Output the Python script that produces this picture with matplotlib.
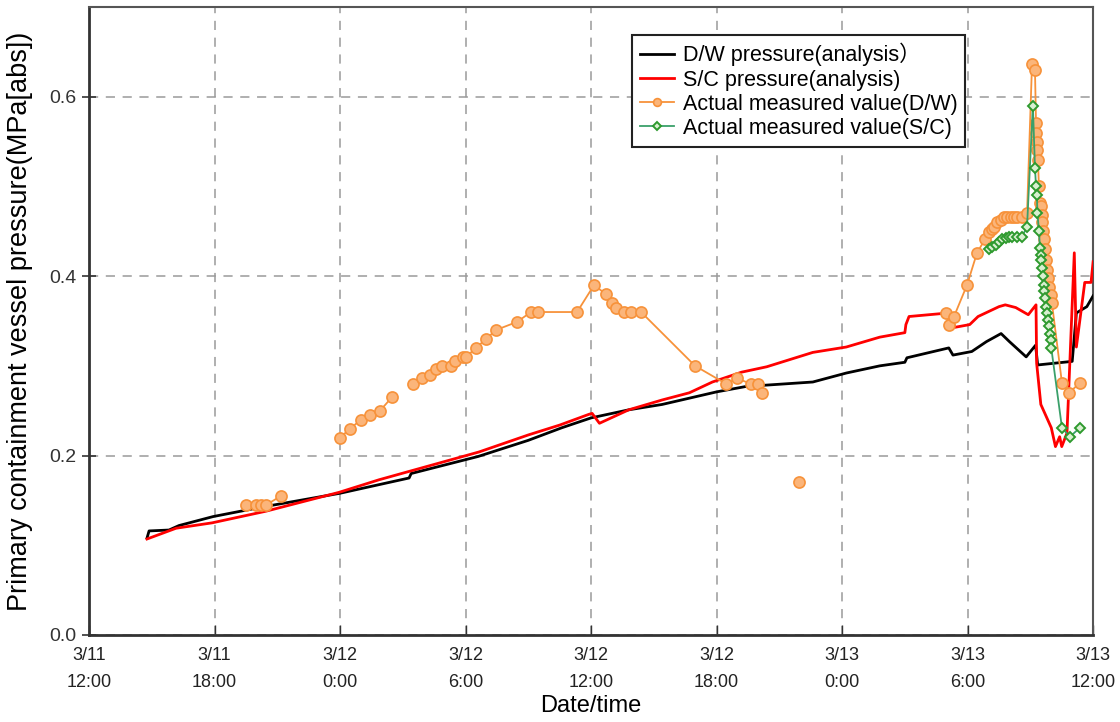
import numpy as np
import matplotlib.pyplot as plt

# hours elapsed since 3/11 12:00
dw_calc_h = [2.77, 2.87, 3.82, 4.30, 5.93, 8.13, 12.0, 15.3, 15.4, 18.6, 21.0, 22.6,
             24.0, 25.8, 27.4, 30.0, 31.4, 34.6, 36.2, 37.8, 39.0, 39.1, 41.1, 41.3,
             42.2, 42.9, 43.6, 44.0, 44.8, 45.25, 45.35, 47.0, 47.2, 47.7, 48.0]
dw_calc_p = [0.108, 0.116, 0.117, 0.122, 0.132, 0.142, 0.158, 0.175, 0.180, 0.199, 0.217, 0.231,
             0.242, 0.251, 0.257, 0.271, 0.277, 0.282, 0.292, 0.300, 0.304, 0.309, 0.320, 0.312,
             0.316, 0.327, 0.336, 0.327, 0.310, 0.323, 0.301, 0.305, 0.359, 0.366, 0.378]

sc_calc_h = [2.77, 4.16, 5.88, 8.46, 11.95, 13.86, 18.64, 21.0, 22.5, 23.9, 24.05, 24.4,
             25.8, 27.4, 28.7, 29.8, 31.2, 32.4, 34.6, 36.2, 37.8, 39.0, 39.05, 39.2,
             41.1, 41.4, 42.1, 42.5, 43.5, 43.8, 44.3, 44.9, 45.27, 45.3, 45.5, 46.0,
             46.2, 46.4, 46.5, 46.75, 47.1, 47.2, 47.6, 47.9, 48.0]
sc_calc_p = [0.107, 0.119, 0.125, 0.138, 0.159, 0.173, 0.204, 0.223, 0.234, 0.246, 0.247, 0.236,
             0.251, 0.262, 0.270, 0.282, 0.293, 0.299, 0.315, 0.321, 0.332, 0.337, 0.346, 0.355,
             0.359, 0.343, 0.346, 0.355, 0.366, 0.368, 0.365, 0.357, 0.368, 0.303, 0.257, 0.231,
             0.210, 0.221, 0.210, 0.225, 0.426, 0.321, 0.393, 0.393, 0.416]

# measured values, NaN marks a break in the record
dw_meas_h = [7.50, 7.98, 8.22, 8.46, 9.18, np.nan,
             12.0, 12.48, 13.0, 13.43, 13.91, 14.48, np.nan,
             15.49, 15.92, 16.30, 16.59, 16.87, 17.30, 17.50, 17.88, 18.02, 18.50, 18.98, 19.46,
             20.46, 21.13, 21.46, 23.33, 24.14, 24.71, 25.0, 25.19, 25.57, 25.91, 26.39, 28.97,
             30.45, 30.98, 31.64, 31.98, 32.17, np.nan,
             33.94, np.nan,
             40.97, 41.11, 41.35, 41.97, 42.45, 42.83, 43.02, 43.16, 43.26, 43.40, 43.59, 43.74,
             43.88, 44.07, 44.22, 44.36, 44.60, 44.84, 45.08, 45.22, 45.27, 45.29, 45.31, 45.34,
             45.36, 45.41, 45.46, 45.51, 45.55, 45.58, 45.60, 45.63, 45.70, 45.75, 45.79, 45.84,
             45.89, 45.98, 46.03, 46.51, 46.85, 47.37]
dw_meas_p = [0.145, 0.145, 0.145, 0.145, 0.155, np.nan,
             0.220, 0.230, 0.240, 0.245, 0.250, 0.265, np.nan,
             0.280, 0.286, 0.290, 0.296, 0.300, 0.300, 0.305, 0.310, 0.310, 0.320, 0.330, 0.340,
             0.349, 0.360, 0.360, 0.360, 0.390, 0.380, 0.370, 0.365, 0.360, 0.360, 0.360, 0.300,
             0.280, 0.286, 0.280, 0.280, 0.270, np.nan,
             0.170, np.nan,
             0.359, 0.345, 0.355, 0.390, 0.426, 0.441, 0.449, 0.453, 0.455, 0.460, 0.463, 0.466,
             0.466, 0.466, 0.466, 0.466, 0.466, 0.470, 0.637, 0.630, 0.571, 0.560, 0.550, 0.541,
             0.530, 0.500, 0.482, 0.478, 0.468, 0.460, 0.450, 0.441, 0.430, 0.418, 0.407, 0.398,
             0.388, 0.379, 0.370, 0.281, 0.270, 0.281]

sc_meas_h = [43.02, 43.16, 43.36, 43.50, 43.64, 43.83, 43.98, 44.12, 44.36, 44.60, 44.84, 45.12,
             45.22, 45.27, 45.31, 45.34, 45.41, 45.46, 45.51, 45.53, 45.55, 45.60, 45.63, 45.65,
             45.70, 45.75, 45.79, 45.84, 45.89, 45.94, 45.98, 46.0, 46.51, 46.89, 47.37]
sc_meas_p = [0.430, 0.433, 0.435, 0.438, 0.441, 0.443, 0.444, 0.444, 0.444, 0.444, 0.455, 0.590,
             0.521, 0.500, 0.490, 0.470, 0.450, 0.431, 0.424, 0.418, 0.409, 0.400, 0.390, 0.383,
             0.376, 0.366, 0.359, 0.351, 0.344, 0.335, 0.329, 0.320, 0.231, 0.221, 0.231]

tick_hours = [0, 6, 12, 18, 24, 30, 36, 42, 48]
tick_labels = ['3/11\n12:00', '3/11\n18:00', '3/12\n0:00', '3/12\n6:00', '3/12\n12:00',
               '3/12\n18:00', '3/13\n0:00', '3/13\n6:00', '3/13\n12:00']

plt.rcParams['font.family'] = ['Liberation Sans', 'Noto Sans CJK JP', 'DejaVu Sans']

fig = plt.figure(figsize=(11.2, 7.22), dpi=100)
ax = fig.add_axes([0.0795, 0.1205, 0.8965, 0.8698])

ax.plot(dw_calc_h, dw_calc_p, color='black', lw=2, label='D/W pressure(analysis\uff09', zorder=3)
ax.plot(sc_calc_h, sc_calc_p, color='#ff0000', lw=2, label='S/C pressure(analysis)', zorder=3)
ax.plot(dw_meas_h, dw_meas_p, color='#f7923a', lw=1.3, marker='o', ms=8,
        mfc='#fbb57a', mec='#f7923a', mew=1.2, label='Actual measured value(D/W)', zorder=4)
ax.plot(sc_meas_h, sc_meas_p, color='#3aa06a', lw=1.3, marker='D', ms=5.5,
        mfc='#d8f0d0', mec='#2e9a2e', mew=1.4, label='Actual measured value(S/C)', zorder=5)

ax.set_xlim(0, 48)
ax.set_ylim(0, 0.7)
ax.set_xticks(tick_hours)
ax.set_xticklabels(tick_labels, fontsize=13, color='#222222', linespacing=1.75)
ax.set_yticks([0.0, 0.2, 0.4, 0.6])
ax.set_yticklabels(['0.0', '0.2', '0.4', '0.6'], fontsize=14, color='#333333')

ax.grid(True, color='#9a9a9a', linestyle=(0, (6, 5)), lw=1.1)
ax.tick_params(axis='x', direction='in', length=7, width=1, pad=9, color='#333333')
ax.tick_params(axis='y', direction='inout', length=10, width=1.2, pad=4, color='#333333')
for side in ['left', 'bottom']:
    ax.spines[side].set_linewidth(2)
    ax.spines[side].set_color('#333333')
for side in ['top', 'right']:
    ax.spines[side].set_linewidth(1.5)
    ax.spines[side].set_color('#555555')

ax.set_xlabel('Date/time', fontsize=17, labelpad=3)
ax.set_ylabel('Primary containment vessel pressure(MPa[abs])', fontsize=19.5, labelpad=12)

leg = ax.legend(loc='upper left', bbox_to_anchor=(0.530, 0.972), fontsize=15.5, frameon=True,
                fancybox=False, edgecolor='#222222', framealpha=1, borderpad=0.35,
                labelspacing=0.15, handlelength=1.6, handletextpad=0.4, markerscale=0.7)
leg.get_frame().set_linewidth(1.5)

fig.savefig('out.png', dpi=100)
